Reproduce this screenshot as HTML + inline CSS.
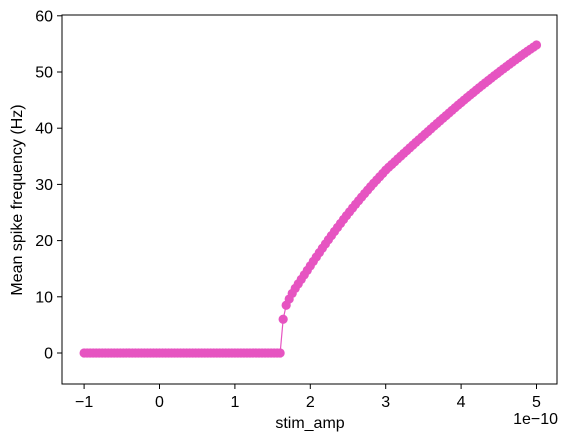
<!DOCTYPE html>
<html><head><meta charset="utf-8"><style>
body{margin:0;background:#fff;}
svg text{font-family:"Liberation Sans",sans-serif;font-size:16px;fill:#000;}
</style></head><body>
<svg id="chart" width="571" height="440" xmlns="http://www.w3.org/2000/svg">
<g id="plot"></g>
<rect x="62" y="15" width="495" height="369" fill="none" stroke="#000" stroke-width="1"/>
<g id="ticks"></g>
<text x="310" y="428" text-anchor="middle">stim_amp</text>
<text x="558" y="424" text-anchor="end">1e−10</text>
<text transform="translate(22,200) rotate(-90)" text-anchor="middle">Mean spike frequency (Hz)</text>
</svg>
<script>
const zeroStart=-1.0, step=0.04;
const zeroCount=66; // x from -1.0 to 1.60
const fireStart=1.64;
const fireValues=[6.0,8.5,9.6,10.6,11.5,12.3,13.1,13.9,14.7,15.5,
16.30,17.09,17.87,18.64,19.40,20.15,20.89,21.62,22.34,23.05,23.75,24.44,25.12,25.79,26.45,27.10,27.74,28.37,28.99,29.60,30.20,30.79,31.37,31.94,32.55,
33.05,33.55,34.04,34.54,35.03,35.52,36.01,36.50,36.99,37.48,37.96,38.44,38.92,39.40,39.88,40.36,40.83,41.30,41.77,42.24,42.71,43.18,43.64,44.10,44.56,
45.01,45.46,45.90,46.34,46.78,47.21,47.64,48.07,48.49,48.91,49.33,49.74,50.15,50.56,50.96,51.36,51.76,52.15,52.54,52.93,53.31,53.69,54.06,54.43,54.80];
const xTicks=[-1,0,1,2,3,4,5];
const yTicks=[0,10,20,30,40,50,60];
const NS="http://www.w3.org/2000/svg";
const X=v=>159.5+v*75.4;
const Y=v=>353-v*5.62;
const pts=[];
for(let i=0;i<zeroCount;i++)pts.push([zeroStart+i*step,0]);
fireValues.forEach((v,i)=>pts.push([fireStart+i*step,v]));
const plot=document.getElementById('plot');
const line=document.createElementNS(NS,'polyline');


line.setAttribute('points',pts.map(p=>X(p[0])+','+Y(p[1])).join(' '));
line.setAttribute('fill','none');line.setAttribute('stroke','#e654c1');line.setAttribute('stroke-width','1.2');
plot.appendChild(line);
pts.forEach(p=>{const c=document.createElementNS(NS,'circle');


c.setAttribute('cx',X(p[0]));c.setAttribute('cy',Y(p[1]));c.setAttribute('r',4.6);c.setAttribute('fill','#e654c1');plot.appendChild(c);});
const tg=document.getElementById('ticks');
xTicks.forEach(t=>{const l=document.createElementNS(NS,'line');


l.setAttribute('x1',X(t));l.setAttribute('x2',X(t));l.setAttribute('y1',384);l.setAttribute('y2',389);l.setAttribute('stroke','#000');tg.appendChild(l);
const s=document.createElementNS(NS,'text');


s.setAttribute('x',X(t));s.setAttribute('y',407);s.setAttribute('text-anchor','middle');s.textContent=t<0?'−'+(-t):t;tg.appendChild(s);});
yTicks.forEach(t=>{const l=document.createElementNS(NS,'line');


l.setAttribute('x1',57);l.setAttribute('x2',62);l.setAttribute('y1',Y(t));l.setAttribute('y2',Y(t));l.setAttribute('stroke','#000');tg.appendChild(l);
const s=document.createElementNS(NS,'text');


s.setAttribute('x',53);s.setAttribute('y',Y(t)+5.5);s.setAttribute('text-anchor','end');s.textContent=t;tg.appendChild(s);});
</script>
</body></html>
